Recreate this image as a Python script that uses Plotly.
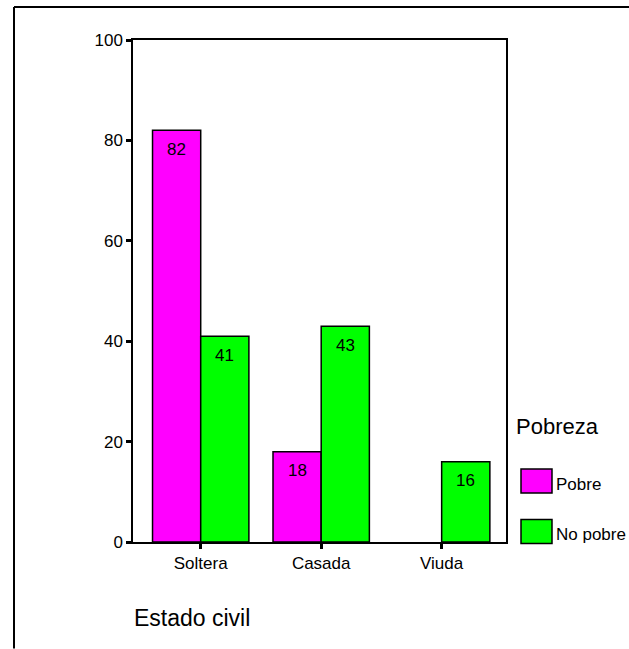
import plotly.graph_objects as go

# Estado civil vs Pobreza (percentages)
categories = ["Soltera", "Casada", "Viuda"]
pobre = [82, 18, None]
no_pobre = [41, 43, 16]
y_ticks = [0, 20, 40, 60, 80, 100]
series_names = ["Pobre", "No pobre"]
series_colors = ["#FF00FF", "#00FF00"]

W, H = 629, 649
L, R, T, B = 133, 506, 40, 542.5   # plot area in pixels
FONT = "Liberation Sans, Arial, sans-serif"


def px_x(px):
    return (px - L) / (R - L)


def px_y(py):
    return (B - py) / (B - T)


fig = go.Figure()

bar_w = 0.4
for vals, name, color, off in [(pobre, series_names[0], series_colors[0], -0.2),
                               (no_pobre, series_names[1], series_colors[1], 0.2)]:
    xs = [i + off for i in range(len(categories))]
    fig.add_trace(go.Bar(
        x=xs, y=vals, width=bar_w, name=name,
        marker=dict(color=color, line=dict(color="black", width=1.5)),
        showlegend=False, hoverinfo="skip",
    ))
    for x, v in zip(xs, vals):
        if v is None:
            continue
        fig.add_annotation(x=x, y=v, text=str(v), showarrow=False,
                           yanchor="middle", yshift=-19,
                           font=dict(family=FONT, size=17, color="black"))

annotations = []
shapes = []

# outer frame (left and top edges)
shapes.append(dict(type="line", xref="paper", yref="paper",
                   x0=px_x(14), x1=px_x(629), y0=px_y(7), y1=px_y(7),
                   line=dict(color="black", width=2)))
shapes.append(dict(type="line", xref="paper", yref="paper",
                   x0=px_x(14), x1=px_x(14), y0=px_y(7), y1=px_y(649),
                   line=dict(color="black", width=2)))

# x axis title
annotations.append(dict(xref="paper", yref="paper", x=px_x(132), y=px_y(619),
                        xanchor="left", yanchor="middle", showarrow=False,
                        text="Estado civil",
                        font=dict(family=FONT, size=23, color="black")))

# legend
annotations.append(dict(xref="paper", yref="paper", x=px_x(514), y=px_y(427),
                        xanchor="left", yanchor="middle", showarrow=False,
                        text="Pobreza",
                        font=dict(family=FONT, size=22, color="black")))
for i, (name, color) in enumerate(zip(series_names, series_colors)):
    y0 = 469.5 + i * 50.5
    shapes.append(dict(type="rect", xref="paper", yref="paper",
                       x0=px_x(521), x1=px_x(552), y0=px_y(y0), y1=px_y(y0 + 24),
                       fillcolor=color, line=dict(color="black", width=1.5)))
    annotations.append(dict(xref="paper", yref="paper", x=px_x(554), y=px_y(y0 + 15),
                            xanchor="left", yanchor="middle", showarrow=False,
                            text=name,
                            font=dict(family=FONT, size=17, color="black")))

fig.update_layout(
    width=W, height=H,
    margin=dict(l=L, r=W - R, t=T, b=H - B, pad=0),
    paper_bgcolor="white", plot_bgcolor="white",
    barmode="overlay",
    shapes=shapes,
    font=dict(family=FONT, size=17, color="black"),
)
for a in annotations:
    fig.add_annotation(**a)

fig.update_xaxes(
    range=[-0.562, 2.534],
    tickvals=list(range(len(categories))), ticktext=categories,
    showline=True, linecolor="black", linewidth=1.5, mirror=True,
    ticks="outside", ticklen=5, tickwidth=3, tickcolor="black",
    showgrid=False, zeroline=False, fixedrange=True,
    tickfont=dict(family=FONT, size=17, color="black"),
)
fig.update_yaxes(
    range=[0, 100], tickvals=y_ticks,
    showline=True, linecolor="black", linewidth=1.5, mirror=True,
    ticks="outside", ticklen=5, tickwidth=3, tickcolor="black",
    showgrid=False, zeroline=False, fixedrange=True,
    tickfont=dict(family=FONT, size=17, color="black"),
)

fig.write_html("out.html", config={"displayModeBar": False})
